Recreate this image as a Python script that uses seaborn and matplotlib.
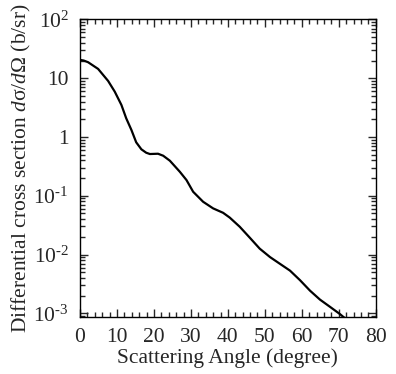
import numpy as np
import pandas as pd
import matplotlib
matplotlib.use('Agg')
import matplotlib.pyplot as plt
import seaborn as sns
from matplotlib.ticker import FixedLocator, FixedFormatter, MultipleLocator, LogLocator, NullFormatter

# Cross section
angle = [0, 1.0, 2.2, 4.9, 7.6, 9.4, 11.2, 12.5, 13.9, 15.2, 16.6, 17.9, 18.9, 21.1, 22.5, 24.3,
         27.0, 28.8, 30.6, 33.3, 36.0, 38.7, 40.5, 43.2, 45.9, 48.6, 51.4, 54.0, 56.8,
         59.5, 62.2, 64.9, 67.6, 70.3, 71.2, 72.0]
xsec = [20.5, 20.0, 18.7, 14.4, 9.0, 5.91, 3.51, 2.08, 1.32, 0.812, 0.617, 0.540, 0.513, 0.519, 0.480, 0.395,
        0.256, 0.185, 0.117, 0.0790, 0.0610, 0.0513, 0.0425, 0.0297, 0.0194, 0.0126, 0.00904, 0.00700, 0.00532,
        0.00366, 0.00243, 0.00171, 0.00129, 0.00097, 0.00087, 0.00080]

y_major = [1e-3, 1e-2, 1e-1, 1, 10, 100]
y_labels = [r'10$^{\text{-3}}$', r'10$^{\text{-2}}$', r'10$^{\text{-1}}$', '1', '10', r'10$^{\text{2}}$']

sns.set_style('ticks')
plt.rcParams['font.family'] = ['Liberation Serif', 'DejaVu Serif']
plt.rcParams['mathtext.fontset'] = 'custom'
plt.rcParams['mathtext.rm'] = 'Liberation Serif'
plt.rcParams['mathtext.it'] = 'Liberation Serif:italic'

df = pd.DataFrame({'angle': angle, 'xsec': xsec})

fig = plt.figure(figsize=(3.96, 3.74), dpi=100)
ax = fig.add_axes([0.202, 0.152, 0.747, 0.796])
sns.lineplot(data=df, x='angle', y='xsec', color='black', linewidth=1.6, ax=ax)

ax.set_yscale('log')
ax.set_xlim(0, 80)
ax.set_ylim(8.6e-4, 100)

ax.xaxis.set_major_locator(MultipleLocator(10))
ax.xaxis.set_minor_locator(MultipleLocator(2))
ax.yaxis.set_major_locator(FixedLocator(y_major))
ax.yaxis.set_major_formatter(FixedFormatter(y_labels))
ax.yaxis.set_minor_locator(LogLocator(base=10, subs=np.arange(2, 10)))
ax.yaxis.set_minor_formatter(NullFormatter())

ax.tick_params(which='both', direction='in', top=True, right=True, width=1.0, labelsize=15.5)
ax.tick_params(which='major', length=6, pad=8)
ax.tick_params(which='minor', length=3.5)
for s in ax.spines.values():
    s.set_linewidth(1.0)
    s.set_color('black')

ax.set_xlabel('Scattering Angle (degree)', fontsize=15.5, labelpad=1)
ax.set_ylabel('Differential cross section $d$σ/$d$Ω (b/sr)', fontsize=15.5, labelpad=0)

fig.savefig('out.png', dpi=100)
